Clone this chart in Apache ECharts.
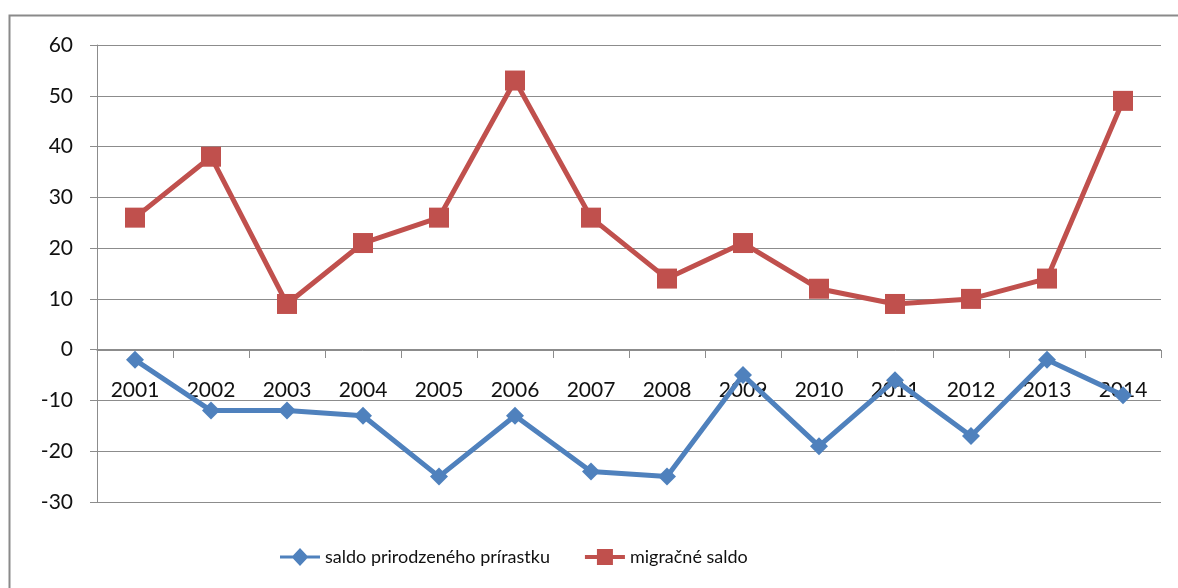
<!DOCTYPE html>
<html>
<head>
<meta charset="utf-8">
<script src="https://cdn.jsdelivr.net/npm/echarts@6/dist/echarts.min.js"></script>
<style>
  html, body { margin: 0; padding: 0; background: #fff; }
  #chart { width: 1178px; height: 588px; }
</style>
</head>
<body>
<div id="chart"></div>
<script>
// roky
var years = ['2001', '2002', '2003', '2004', '2005', '2006', '2007', '2008', '2009', '2010', '2011', '2012', '2013', '2014'];
// saldo prirodzeného prírastku
var natural = [-2, -12, -12, -13, -25, -13, -24, -25, -5, -19, -6, -17, -2, -9];
// migračné saldo
var migration = [26, 38, 9, 21, 26, 53, 26, 14, 21, 12, 9, 10, 14, 49];

var myChart = echarts.init(document.getElementById('chart'));
var font = 'Lato, "Open Sans", sans-serif';
var axisColor = '#8c8c8c';

var option = {
  animation: false,
  backgroundColor: '#fff',
  // ram okolo grafu
  graphic: [{
    type: 'rect',
    shape: { x: 9.5, y: 15.5, width: 1200, height: 600 },
    style: { fill: 'none', stroke: '#8a8a8a', lineWidth: 2 }
  }],
  // grid 0 = hlavny graf, grid 1 = horna cast po nulu (os x na nule)
  grid: [
    { left: 97, right: 17, top: 45, bottom: 86 },
    { left: 97, right: 17, top: 45, bottom: 238 }
  ],
  legend: {
    left: 275,
    bottom: 17,
    itemWidth: 40,
    itemHeight: 18,
    itemGap: 35,
    textStyle: { fontFamily: font, fontSize: 18, color: '#111' },
    data: [{
      name: 'saldo prirodzeného prírastku',
      icon: 'path://M0,7.5 L13,7.5 L20,0 L27,7.5 L40,7.5 L40,10.5 L27,10.5 L20,18 L13,10.5 L0,10.5 Z'
    }, {
      name: 'migračné saldo',
      icon: 'path://M0,7 L12,7 L12,1 L28,1 L28,7 L40,7 L40,11 L28,11 L28,17 L12,17 L12,11 L0,11 Z'
    }]
  },
  xAxis: [{
    type: 'category',
    gridIndex: 0,
    data: years,
    axisLine: { show: false },
    axisTick: { show: false },
    axisLabel: { show: false }
  }, {
    type: 'category',
    gridIndex: 1,
    data: years,
    axisLine: { lineStyle: { color: axisColor, width: 1 } },
    axisTick: { show: true, length: 8, lineStyle: { color: axisColor } },
    axisLabel: { margin: 30, fontFamily: font, fontSize: 21, color: '#111' },
    z: 1
  }],
  yAxis: [{
    type: 'value',
    gridIndex: 0,
    min: -30,
    max: 60,
    interval: 10,
    axisLine: { show: true, lineStyle: { color: axisColor, width: 1 } },
    axisTick: { show: true, length: 7, lineStyle: { color: axisColor } },
    axisLabel: { margin: 24, fontFamily: font, fontSize: 21, color: '#111' },
    splitLine: { lineStyle: { color: axisColor, width: 1 } }
  }, {
    type: 'value',
    gridIndex: 1,
    min: 0,
    max: 60,
    show: false,
    splitLine: { show: false }
  }],
  series: [{
    name: 'saldo prirodzeného prírastku',
    type: 'line',
    data: natural,
    symbol: 'diamond',
    symbolSize: 18,
    color: '#4F81BD',
    lineStyle: { width: 5, color: '#4F81BD' },
    itemStyle: { color: '#4F81BD' },
    z: 3
  }, {
    name: 'migračné saldo',
    type: 'line',
    data: migration,
    symbol: 'rect',
    symbolSize: 20,
    color: '#C0504D',
    lineStyle: { width: 5, color: '#C0504D' },
    itemStyle: { color: '#C0504D' },
    z: 3
  }]
};

myChart.setOption(option);
</script>
</body>
</html>
